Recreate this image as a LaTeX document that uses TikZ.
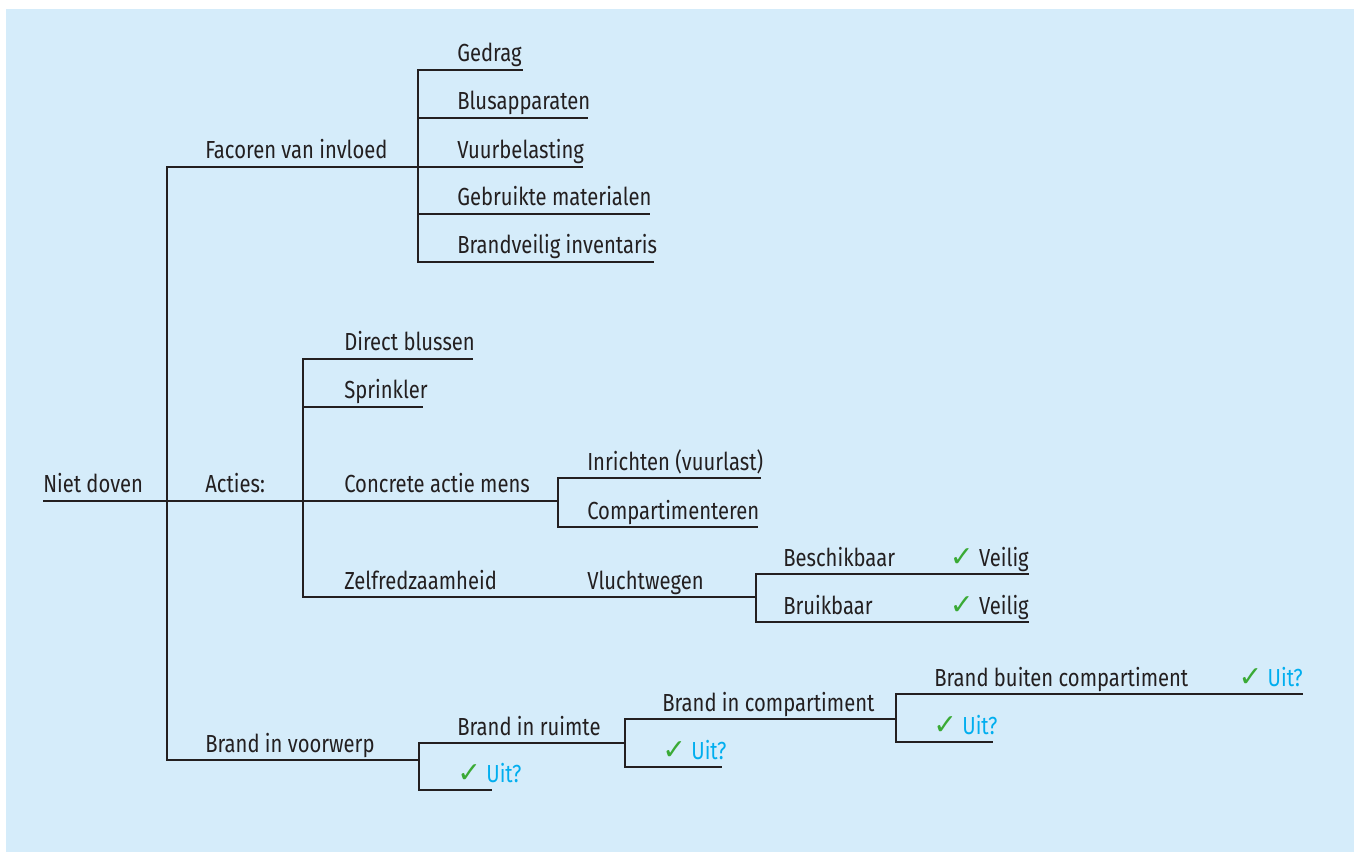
\documentclass[tikz,border=0pt]{standalone}
\usepackage{fontspec}
\setmainfont[FakeStretch=0.82]{Fira Sans}
\newfontfamily\vinkfont[Scale=1.15]{DejaVu Sans}
\definecolor{achtergrond}{HTML}{D5ECFA}
\definecolor{lijn}{HTML}{231F20}
\definecolor{vinkgroen}{HTML}{3AAA35}
\definecolor{uitblauw}{HTML}{00AEEF}
\newcommand{\vink}{{\vinkfont\color{vinkgroen}✓}}
\newcommand{\uit}{\vink\ {\color{uitblauw}Uit?}}
\newcommand{\veilig}{\vink\ Veilig}
\begin{document}
\begin{tikzpicture}[x=0.75pt, y=-0.75pt, font=\fontsize{18.5}{22}\selectfont,
    tak/.style={draw=lijn, line width=2pt},
    stok/.style={tak, line cap=rect},
    lbl/.style={anchor=base west, inner sep=0pt, text=lijn},
    rlbl/.style={lbl, anchor=base east}]
\useasboundingbox (0,0) rectangle (1354,852);
\fill[achtergrond] (6,9) rectangle (1354,852);
% stam
\coordinate (wortel) at (43,501);
\coordinate (stam) at (167,501);
\coordinate (stamtop) at (167,167);
\coordinate (stambodem) at (167,760);
\node[lbl] (nietdoven) at (43,493) {Niet doven};
\draw[tak] (wortel) -- (stam);
\draw[stok] (stamtop) -- (stambodem);
% factoren
\coordinate (fac) at (418,167);
\node[lbl] (facoren) at (205,159) {Facoren van invloed};
\draw[tak] (stamtop) -- (fac);
\foreach \y/\e/\t [count=\i] in {70/523/Gedrag, 118/588/Blusapparaten, 167/583/Vuurbelasting,
    214/650/Gebruikte materialen, 262/654/Brandveilig inventaris}{
  \coordinate (fa\i) at (418,\y);
  \coordinate (fe\i) at (\e,\y);
  \node[lbl] (ft\i) at (457,\y-8) {\t};
  \draw[tak] (fa\i) -- (fe\i);
}
\draw[stok] (fa1) -- (fa5);
% acties
\coordinate (act) at (303,501);
\coordinate (actop) at (303,359);
\coordinate (acbodem) at (303,597);
\node[lbl] (acties) at (205,493) {Acties:};
\draw[tak] (stam) -- (act);
\draw[stok] (actop) -- (acbodem);
\coordinate (dbe) at (473,359);
\coordinate (sps) at (303,407);
\coordinate (spe) at (423,407);
\node[lbl] (direct) at (344,351) {Direct blussen};
\node[lbl] (sprinkler) at (344,399) {Sprinkler};
\draw[tak] (actop) -- (dbe);
\draw[tak] (sps) -- (spe);
% concrete actie mens
\coordinate (cam) at (558,501);
\coordinate (camtop) at (558,478);
\coordinate (cambodem) at (558,527);
\coordinate (inre) at (761,478);
\coordinate (compe) at (758,527);
\node[lbl] (concreet) at (344,493) {Concrete actie mens};
\node[lbl] (inrichten) at (587,470) {Inrichten (vuurlast)};
\node[lbl] (compart) at (587,519) {Compartimenteren};
\draw[tak] (act) -- (cam);
\draw[stok] (camtop) -- (cambodem);
\draw[tak] (camtop) -- (inre);
\draw[tak] (cambodem) -- (compe);
% zelfredzaamheid
\coordinate (vlu) at (756,597);
\coordinate (vlutop) at (756,574);
\coordinate (vlubodem) at (756,622);
\coordinate (besche) at (1029,574);
\coordinate (bruike) at (1029,622);
\node[lbl] (zelfred) at (344,589) {Zelfredzaamheid};
\node[lbl] (vlucht) at (587,589) {Vluchtwegen};
\node[lbl] (beschik) at (783,566) {Beschikbaar};
\node[lbl] (bruik) at (783,614) {Bruikbaar};
\node[rlbl] (veilig1) at (besche) [yshift=6pt] {\veilig};
\node[rlbl] (veilig2) at (bruike) [yshift=6pt] {\veilig};
\draw[tak] (acbodem) -- (vlu);
\draw[stok] (vlutop) -- (vlubodem);
\draw[tak] (vlutop) -- (besche);
\draw[tak] (vlubodem) -- (bruike);
% brand in voorwerp
\coordinate (bv) at (419,760);
\coordinate (bvtop) at (419,743);
\coordinate (bvbodem) at (419,790);
\coordinate (bve) at (492,790);
\node[lbl] (voorwerp) at (205,752) {Brand in voorwerp};
\node[lbl] (ruimte) at (457,735) {Brand in ruimte};
\node[lbl] (uit1) at (457,782) {\uit};
\draw[tak] (stambodem) -- (bv);
\draw[stok] (bvtop) -- (bvbodem);
\draw[tak] (bvbodem) -- (bve);
% brand in ruimte
\coordinate (br) at (625,743);
\coordinate (brtop) at (625,719);
\coordinate (brbodem) at (625,767);
\coordinate (bre) at (722,767);
\node[lbl] (compartiment) at (662,711) {Brand in compartiment};
\node[lbl] (uit2) at (662,759) {\uit};
\draw[tak] (bvtop) -- (br);
\draw[stok] (brtop) -- (brbodem);
\draw[tak] (brbodem) -- (bre);
% brand in compartiment
\coordinate (bc) at (896,719);
\coordinate (bctop) at (896,694);
\coordinate (bcbodem) at (896,742);
\coordinate (bbe) at (1303,694);
\coordinate (bce) at (993,742);
\node[lbl] (buiten) at (934,686) {Brand buiten compartiment};
\node[rlbl] (uit3) at (bbe) [yshift=6pt] {\uit};
\node[lbl] (uit4) at (933,734) {\uit};
\draw[tak] (brtop) -- (bc);
\draw[stok] (bctop) -- (bcbodem);
\draw[tak] (bctop) -- (bbe);
\draw[tak] (bcbodem) -- (bce);
\end{tikzpicture}
\end{document}
